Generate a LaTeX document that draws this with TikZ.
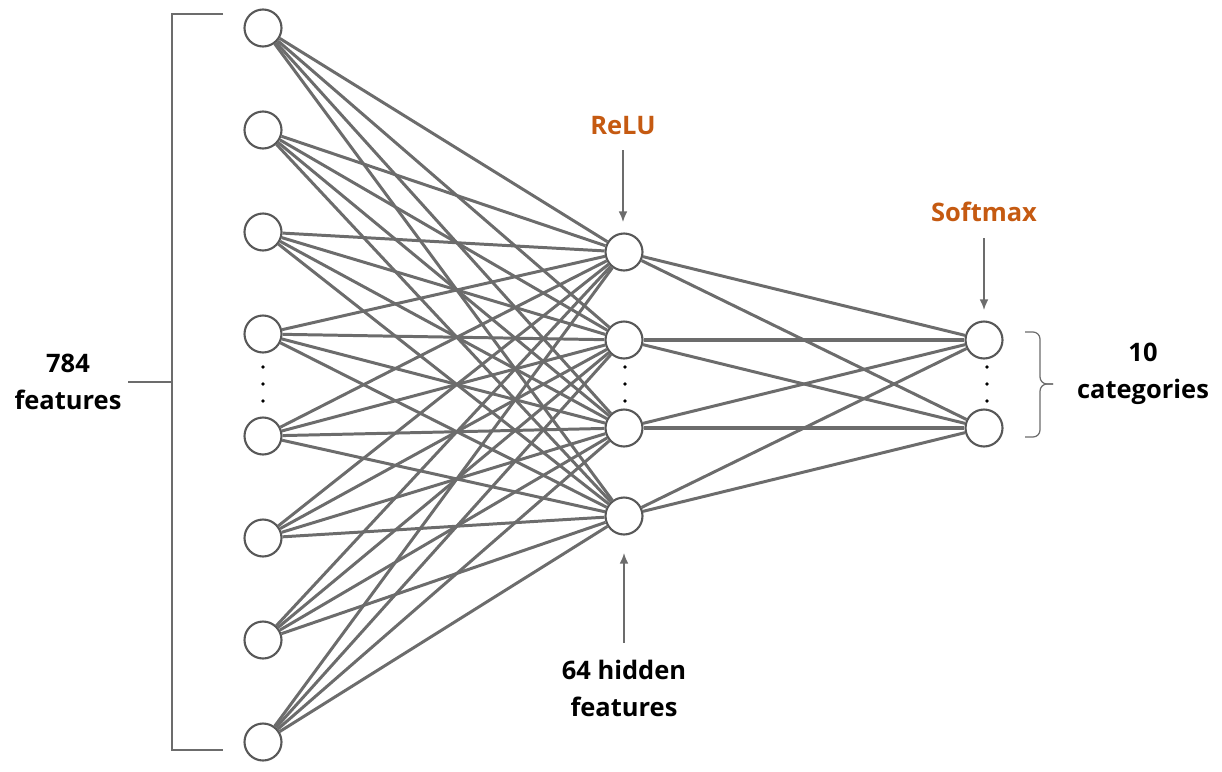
\documentclass[tikz,border=0pt]{standalone}
\usepackage{fontspec}
\setmainfont{Open Sans}
\usetikzlibrary{arrows.meta}
\definecolor{actorange}{RGB}{197,90,17}
\definecolor{edgegray}{RGB}{108,108,108}
\definecolor{unitgray}{RGB}{88,88,88}

\begin{document}
\begin{tikzpicture}[x=0.02cm,y=-0.02cm,
  unit/.style={circle,draw=unitgray,line width=1.2pt,fill=white,minimum size=0.74cm,inner sep=0pt},
  edge/.style={draw=edgegray,line width=1.7pt},
  brack/.style={draw=edgegray,line width=0.7pt},
  pointer/.style={draw=edgegray,line width=0.9pt,-{Latex[length=6pt,width=5pt]}},
  lbl/.style={font=\fontsize{14.5}{21}\selectfont\bfseries,align=center,text=black},
  actlbl/.style={font=\fontsize{14.5}{21}\selectfont\bfseries,text=actorange}]
\useasboundingbox (0,0) rectangle (1222,771);
% input layer
\node[unit] (i1) at (263,28) {};
\node[unit] (i2) at (263,130) {};
\node[unit] (i3) at (263,232) {};
\node[unit] (i4) at (263,334) {};
\node[unit] (i5) at (263,436) {};
\node[unit] (i6) at (263,538) {};
\node[unit] (i7) at (263,640) {};
\node[unit] (i8) at (263,742) {};
% hidden layer
\node[unit] (h1) at (624,252) {};
\node[unit] (h2) at (624,340) {};
\node[unit] (h3) at (624,428) {};
\node[unit] (h4) at (624,516) {};
% output layer
\node[unit] (o1) at (984,340) {};
\node[unit] (o2) at (984,428) {};
% input -> hidden
\draw[edge] (i1) -- (h1);
\draw[edge] (i1) -- (h2);
\draw[edge] (i1) -- (h3);
\draw[edge] (i1) -- (h4);
\draw[edge] (i2) -- (h1);
\draw[edge] (i2) -- (h2);
\draw[edge] (i2) -- (h3);
\draw[edge] (i2) -- (h4);
\draw[edge] (i3) -- (h1);
\draw[edge] (i3) -- (h2);
\draw[edge] (i3) -- (h3);
\draw[edge] (i3) -- (h4);
\draw[edge] (i4) -- (h1);
\draw[edge] (i4) -- (h2);
\draw[edge] (i4) -- (h3);
\draw[edge] (i4) -- (h4);
\draw[edge] (i5) -- (h1);
\draw[edge] (i5) -- (h2);
\draw[edge] (i5) -- (h3);
\draw[edge] (i5) -- (h4);
\draw[edge] (i6) -- (h1);
\draw[edge] (i6) -- (h2);
\draw[edge] (i6) -- (h3);
\draw[edge] (i6) -- (h4);
\draw[edge] (i7) -- (h1);
\draw[edge] (i7) -- (h2);
\draw[edge] (i7) -- (h3);
\draw[edge] (i7) -- (h4);
\draw[edge] (i8) -- (h1);
\draw[edge] (i8) -- (h2);
\draw[edge] (i8) -- (h3);
\draw[edge] (i8) -- (h4);
% hidden -> output
\draw[edge] (h1) -- (o1);
\draw[edge] (h1) -- (o2);
\draw[edge,line width=2.2pt] (h2) -- (o1);
\draw[edge] (h2) -- (o2);
\draw[edge] (h3) -- (o1);
\draw[edge,line width=2.2pt] (h3) -- (o2);
\draw[edge] (h4) -- (o1);
\draw[edge] (h4) -- (o2);
% vertical dots
\fill (263,367) circle (1.8) (263,384) circle (1.8) (263,401) circle (1.8);
\fill (625,367) circle (1.8) (625,384) circle (1.8) (625,401) circle (1.8);
\fill (987,367) circle (1.8) (987,384) circle (1.8) (987,401) circle (1.8);
% input bracket
\coordinate (bt) at (223,14);
\coordinate (bb) at (223,750);
\coordinate (bm) at (172,382);
\draw[brack] (bt) -- (172,14) -- (172,750) -- (bb);
\node[lbl] (infeat) at (68,382) {784\\features};
\draw[brack] (bm) -- (infeat.east);
% output brace
\coordinate (ct) at (1025,332);
\coordinate (cb) at (1025,437);
\coordinate (cm) at (1053,384);
\draw[brack,rounded corners=4pt] (ct) -- (1040,332) -- (1040,384) -- (cm);
\draw[brack,rounded corners=4pt] (cm) -- (1040,384) -- (1040,437) -- (cb);
\node[lbl] (outcat) at (1143,374) {10\\categories};
% activation labels
\node[actlbl] (relu) at (623,126) {ReLU};
\coordinate (relutip) at (623,222);
\draw[pointer] (relu.south) ++(0,9) -- (relutip);
\node[actlbl] (softmax) at (984,212) {Softmax};
\coordinate (softtip) at (984,310);
\draw[pointer] (softmax.south) ++(0,10) -- (softtip);
% hidden size label
\node[lbl] (hidfeat) at (624,688) {64 hidden\\features};
\coordinate (hidtip) at (624,553);
\draw[pointer] (hidfeat.north) ++(0,-11) -- (hidtip);
\end{tikzpicture}
\end{document}
